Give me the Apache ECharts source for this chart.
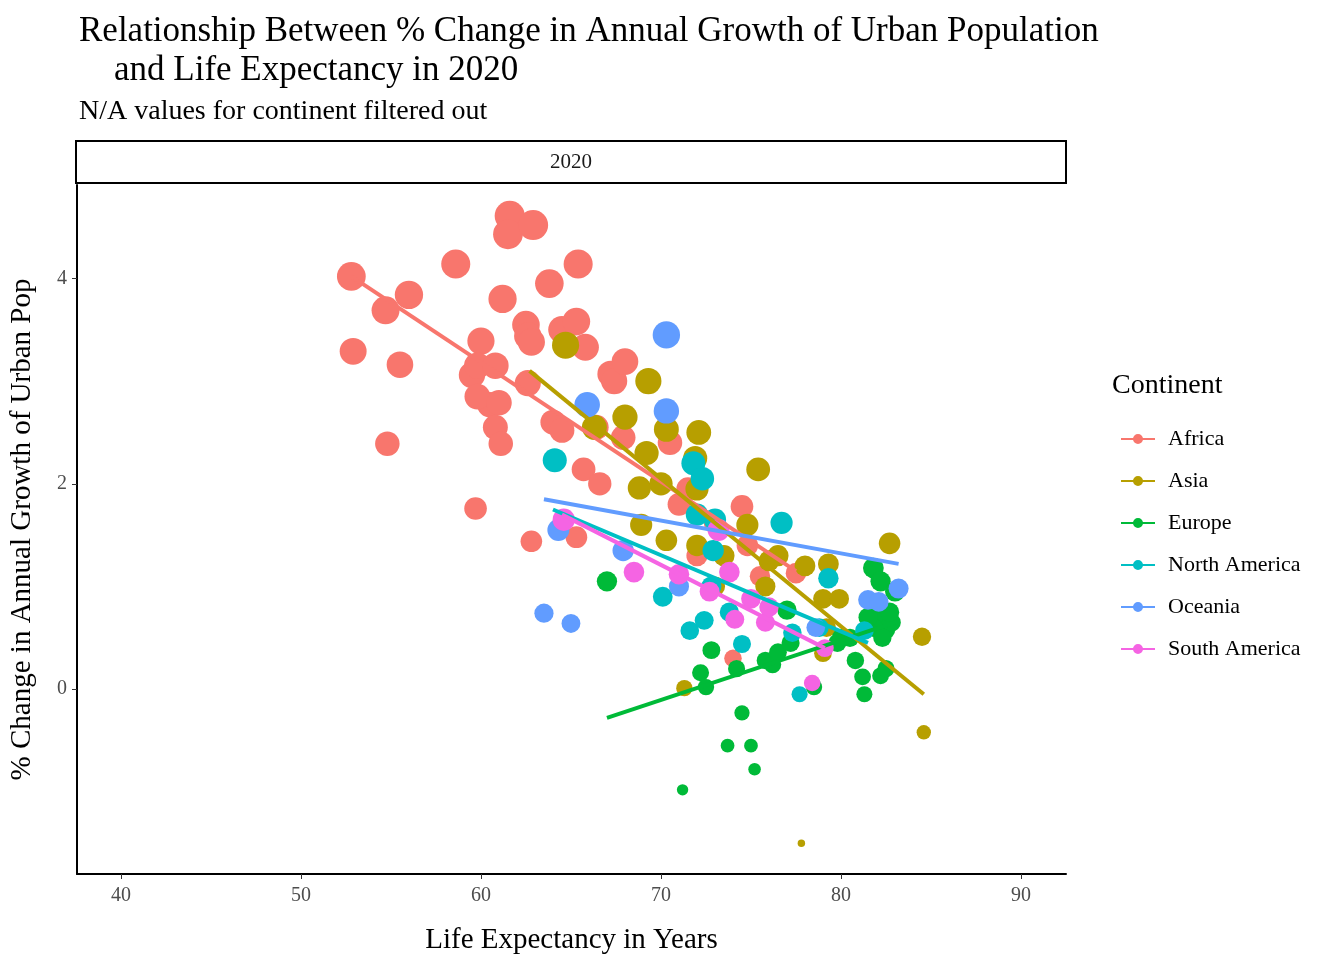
<!DOCTYPE html>
<html><head><meta charset="utf-8">
<script src="https://cdn.jsdelivr.net/npm/echarts@6/dist/echarts.min.js"></script>
<style>html,body{margin:0;background:#fff}#c{width:1344px;height:960px}</style>
</head><body><div id="c"></div>
<script>
// life expectancy / % change in urban growth
var continents = ['Africa','Asia','Europe','North America','Oceania','South America'];
var colors = ['#F8766D','#B79F00','#00BA38','#00BFC4','#619CFF','#F564E3'];
var africa = [[52.8,4.02],[54.7,3.69],[56,3.84],[55.5,3.16],[52.9,3.29],[54.8,2.39],[58.6,4.14],[59.5,3.06],[60,3.39],[59.8,3.15],[60.8,3.15],[60.5,2.77],[59.8,2.85],[61,2.79],[60.8,2.55],[61.1,2.39],[61.2,3.8],[61.6,4.61],[61.5,4.43],[62.9,4.52],[62.5,3.55],[62.6,3.44],[62.8,3.38],[62.6,2.98],[63.8,3.95],[64.5,3.5],[65.3,3.58],[65.4,4.14],[65.8,3.33],[64,2.6],[64.5,2.52],[65.7,2.14],[66.6,2],[67.2,3.07],[67.4,3],[68,3.19],[67.9,2.45],[62.8,1.44],[65.3,1.48],[59.7,1.76],[66.4,2.55],[70.5,2.4],[71,1.8],[73,1.62],[74.5,1.78],[74.8,1.4],[75.5,1.1],[77.5,1.13],[74,0.3],[71.5,1.95],[72,1.3]];
var asia = [[64.7,3.35],[69.3,3],[68,2.65],[66.3,2.55],[70.3,2.53],[72.1,2.5],[71.9,2.25],[69.2,2.3],[68.8,1.96],[70,2],[72,1.95],[75.4,2.14],[68.9,1.6],[70.3,1.45],[72,1.4],[74.8,1.6],[76,1.25],[75.8,1.0],[78,1.2],[79.3,1.22],[79,0.88],[79.9,0.88],[79.2,0.6],[82.7,1.42],[84.5,0.51],[79,0.35],[71.3,0.01],[84.6,-0.42],[77.8,-1.5],[73.5,1.3],[76.5,1.3],[73,1.0]];
var europe = [[67,1.05],[72.2,0.16],[72.5,0.02],[72.8,0.38],[74.2,0.2],[74.5,-0.23],[73.7,-0.55],[75,-0.55],[75.2,-0.78],[71.2,-0.98],[75.8,0.28],[76.2,0.24],[76.5,0.36],[77,0.77],[77.2,0.45],[78.5,0.02],[80.5,0.5],[80.8,0.28],[81.2,0.12],[81.3,-0.05],[81.8,1.18],[82.2,1.05],[83,0.95],[82,0.7],[82.5,0.58],[82.8,0.65],[81.8,0.6],[82.3,0.5],[82.2,0.13],[82.5,0.2],[81.5,0.7],[82.7,0.75],[80,0.5],[79.8,0.45]];
var northAmerica = [[64.1,2.23],[71.8,2.2],[72.3,2.05],[72,1.7],[73,1.65],[72.9,1.35],[76.7,1.62],[70.1,0.9],[71.6,0.57],[72.4,0.67],[73.8,0.75],[74.5,0.44],[77.3,0.55],[79.3,1.08],[78.8,0.6],[77.7,-0.05],[81.3,0.57],[72.8,1.0]];
var oceania = [[70.3,3.45],[65.9,2.77],[70.3,2.71],[64.3,1.55],[67.9,1.35],[63.5,0.74],[65,0.64],[71,1.0],[81.5,0.87],[83.2,0.98],[82.1,0.85],[78.6,0.6]];
var southAmerica = [[64.6,1.65],[68.5,1.14],[71,1.12],[72.7,0.95],[73.8,1.14],[74.1,0.68],[75,0.88],[75.8,0.65],[79.1,0.4],[78.4,0.06],[73.2,1.55],[76,0.8]];
// fitted lines (lm) end points
var fits = [
  [[52.8,4.02],[77.5,1.15]],
  [[62.7,3.1],[84.6,-0.05]],
  [[67,-0.28],[83,0.65]],
  [[64,1.75],[81.5,0.45]],
  [[63.5,1.85],[83.2,1.22]],
  [[64.5,1.7],[79.1,0.4]]
];
var xTicks = [40,50,60,70,80,90];
var yTicks = [0,2,4];
var points = [africa, asia, europe, northAmerica, oceania, southAmerica];

var serif = 'Liberation Serif';
function size(v){ return Math.sqrt(49 + 860 * Math.max(0, v[1] + 1.55) / 6.15); }

var series = [];
continents.forEach(function(name, i){
  series.push({name: name, type: 'scatter', data: points[i], symbolSize: size,
    itemStyle: {color: colors[i], opacity: 1}, z: 2});
});
continents.forEach(function(name, i){
  series.push({name: name, type: 'line', data: fits[i], symbol: 'none',
    lineStyle: {color: colors[i], width: 4}, z: 3});
});

var chart = echarts.init(document.getElementById('c'));
chart.setOption({
  animation: false,
  textStyle: {fontFamily: serif},
  title: [
    {text: 'Relationship Between % Change in Annual Growth of Urban Population\n    and Life Expectancy in 2020',
     left: 74, top: 7, textStyle: {fontFamily: serif, fontWeight: 'normal', fontSize: 35, lineHeight: 39, color: '#000'}},
    {text: 'N/A values for continent filtered out', left: 74, top: 93,
     textStyle: {fontFamily: serif, fontWeight: 'normal', fontSize: 28, color: '#000'}}
  ],
  grid: {left: 75, right: 278, top: 185, bottom: 84},
  graphic: [
    {type: 'rect', shape: {x: 76, y: 141, width: 990, height: 42},
     style: {fill: '#fff', stroke: '#000', lineWidth: 2}},
    {type: 'text', x: 571, y: 162, style: {text: '2020', font: '21px "Liberation Serif"', fill: '#1a1a1a', align: 'center', verticalAlign: 'middle'}},
    {type: 'text', x: 1112, y: 372, style: {text: 'Continent', font: '28px "Liberation Serif"', fill: '#000'}}
  ],
  legend: {
    orient: 'vertical', left: 1116, top: 423, itemGap: 20,
    data: continents,
    icon: 'path://M0,6 L34,6 L34,8 L0,8 Z M17,2 A5,5 0 1,1 16.99,2 Z',
    itemWidth: 34, itemHeight: 14,
    textStyle: {fontFamily: serif, fontSize: 22, color: '#000', padding: [0, 0, 0, 8]}
  },
  xAxis: {
    type: 'value', min: 37.56, max: 92.5,
    name: 'Life Expectancy in Years', nameLocation: 'middle', nameGap: 52,
    nameTextStyle: {fontFamily: serif, fontSize: 29, color: '#000'},
    axisLine: {onZero: false, lineStyle: {color: '#000', width: 2}},
    axisTick: {show: true, customValues: xTicks, length: 5, lineStyle: {color: '#333'}},
    axisLabel: {customValues: xTicks, fontFamily: serif, fontSize: 20, color: '#4d4d4d', margin: 12},
    splitLine: {show: false}
  },
  yAxis: {
    type: 'value', min: -1.8, max: 4.91,
    name: '% Change in Annual Growth of Urban Pop', nameLocation: 'middle', nameGap: 40,
    nameTextStyle: {fontFamily: serif, fontSize: 29, color: '#000'},
    axisLine: {show: true, onZero: false, lineStyle: {color: '#000', width: 2}},
    axisTick: {show: true, customValues: yTicks, length: 5, lineStyle: {color: '#333'}},
    axisLabel: {customValues: yTicks, fontFamily: serif, fontSize: 20, color: '#4d4d4d', margin: 10},
    splitLine: {show: false}
  },
  series: series
});
</script>
</body></html>
